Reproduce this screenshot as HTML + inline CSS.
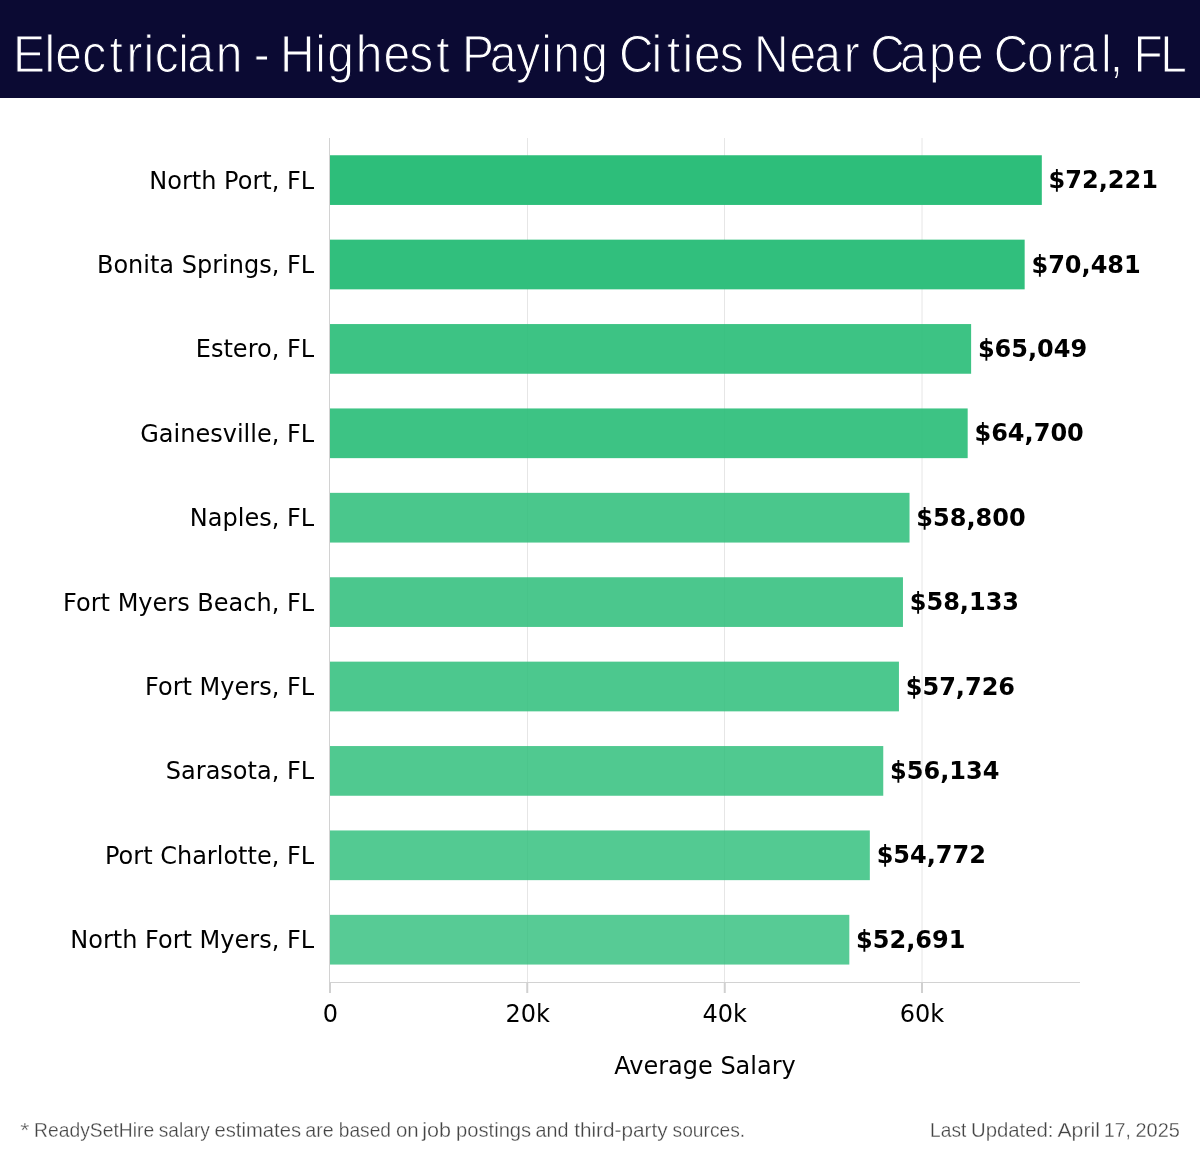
<!DOCTYPE html>
<html lang="en"><head><meta charset="utf-8"><title>Electrician - Highest Paying Cities Near Cape Coral, FL</title>
<style>
html,body{margin:0;padding:0;background:#fff}
body{width:1200px;height:1158px;overflow:hidden}
svg{display:block}
.dj{font-family:"DejaVu Sans","Liberation Sans",sans-serif;font-size:24px;fill:#000}
.b{font-weight:bold}
.t{font-family:"Liberation Sans",sans-serif;font-size:52px;fill:#fff;stroke:#0b0a33;stroke-width:1.2px}
.f{font-family:"Liberation Sans",sans-serif;font-size:20.4px;fill:#444;stroke:#fff;stroke-width:.3px}
</style></head><body>
<svg width="1200" height="1158" viewBox="0 0 1200 1158">
<rect x="0" y="0" width="1200" height="98" fill="#0b0a33"/>

<text class="t" transform="scale(0.9233,1)" x="13.95 48.27 59.79 89.11 118.68 136.89 155.5 167.63 193.14 202.75 233.75 238.75 274.73 279.73 303.37 341.47 354.33 385.21 415.44 443.36 472.49 477.49 500.41 530.45 559.23 586.13 599.18 629.65 634.65 670.34 705.55 722.35 739.12 751.62 779.55 784.55 816.75 855.06 881.85 913.96 918.96 942.58 974.67 1006.17 1036.52 1041.52 1076.44 1112.24 1144.5 1160 1192.54 1201.85 1206.85 1227.55 1256.72" y="71.7">Electrician - Highest Paying Cities Near Cape Coral, FL</text>
<line x1="527.50" y1="138.0" x2="527.50" y2="982.5" stroke="#e6e6e6" stroke-width="1"/>
<line x1="724.50" y1="138.0" x2="724.50" y2="982.5" stroke="#e6e6e6" stroke-width="1"/>
<line x1="922.00" y1="138.0" x2="922.00" y2="982.5" stroke="#e6e6e6" stroke-width="1"/>
<rect x="330.00" y="155.25" width="711.81" height="49.70" fill="#2dbe7a" fill-opacity="1.000"/>
<rect x="330.00" y="239.65" width="694.66" height="49.70" fill="#2dbe7a" fill-opacity="0.982"/>
<rect x="330.00" y="324.05" width="641.12" height="49.70" fill="#2dbe7a" fill-opacity="0.927"/>
<rect x="330.00" y="408.45" width="637.68" height="49.70" fill="#2dbe7a" fill-opacity="0.923"/>
<rect x="330.00" y="492.85" width="579.53" height="49.70" fill="#2dbe7a" fill-opacity="0.863"/>
<rect x="330.00" y="577.25" width="572.96" height="49.70" fill="#2dbe7a" fill-opacity="0.856"/>
<rect x="330.00" y="661.65" width="568.95" height="49.70" fill="#2dbe7a" fill-opacity="0.852"/>
<rect x="330.00" y="746.05" width="553.26" height="49.70" fill="#2dbe7a" fill-opacity="0.835"/>
<rect x="330.00" y="830.45" width="539.83" height="49.70" fill="#2dbe7a" fill-opacity="0.821"/>
<rect x="330.00" y="914.85" width="519.32" height="49.70" fill="#2dbe7a" fill-opacity="0.800"/>
<line x1="329.5" y1="138.0" x2="329.5" y2="983.0" stroke="#d2d2d2" stroke-width="1"/>
<line x1="329" y1="982.5" x2="1080" y2="982.5" stroke="#d2d2d2" stroke-width="1"/>
<line x1="330.00" y1="982.5" x2="330.00" y2="993.0" stroke="#d0d0d0" stroke-width="2"/>
<text class="dj" x="330.50" y="1022" text-anchor="middle">0</text>
<line x1="527.25" y1="982.5" x2="527.25" y2="993.0" stroke="#d0d0d0" stroke-width="2"/>
<text class="dj" x="527.62" y="1022" text-anchor="middle">20k</text>
<line x1="724.75" y1="982.5" x2="724.75" y2="993.0" stroke="#d0d0d0" stroke-width="2"/>
<text class="dj" x="724.74" y="1022" text-anchor="middle">40k</text>
<line x1="922.00" y1="982.5" x2="922.00" y2="993.0" stroke="#d0d0d0" stroke-width="2"/>
<text class="dj" x="921.86" y="1022" text-anchor="middle">60k</text>
<text class="dj" x="314.1" y="189" text-anchor="end">North Port, FL</text>
<text class="dj b" x="1048.61" y="188">$72,221</text>
<text class="dj" x="314.1" y="273" text-anchor="end">Bonita Springs, FL</text>
<text class="dj b" x="1031.46" y="273">$70,481</text>
<text class="dj" x="314.1" y="357" text-anchor="end">Estero, FL</text>
<text class="dj b" x="977.92" y="357">$65,049</text>
<text class="dj" x="314.1" y="442" text-anchor="end">Gainesville, FL</text>
<text class="dj b" x="974.48" y="441">$64,700</text>
<text class="dj" x="314.1" y="526" text-anchor="end">Naples, FL</text>
<text class="dj b" x="916.33" y="526">$58,800</text>
<text class="dj" x="314.1" y="611" text-anchor="end">Fort Myers Beach, FL</text>
<text class="dj b" x="909.76" y="610">$58,133</text>
<text class="dj" x="314.1" y="695" text-anchor="end">Fort Myers, FL</text>
<text class="dj b" x="905.75" y="695">$57,726</text>
<text class="dj" x="314.1" y="779" text-anchor="end">Sarasota, FL</text>
<text class="dj b" x="890.06" y="779">$56,134</text>
<text class="dj" x="314.1" y="864" text-anchor="end">Port Charlotte, FL</text>
<text class="dj b" x="876.63" y="863">$54,772</text>
<text class="dj" x="314.1" y="948" text-anchor="end">North Fort Myers, FL</text>
<text class="dj b" x="856.12" y="948">$52,691</text>
<text class="dj" x="705" y="1074" text-anchor="middle">Average Salary</text>
<text class="f" y="1136.8"><tspan x="20.18" textLength="9.11" lengthAdjust="spacingAndGlyphs">*</tspan> <tspan x="34.1" textLength="120.02" lengthAdjust="spacingAndGlyphs">ReadySetHire</tspan> <tspan x="158.8" textLength="51.07" lengthAdjust="spacingAndGlyphs">salary</tspan> <tspan x="214.51" textLength="86.49" lengthAdjust="spacingAndGlyphs">estimates</tspan> <tspan x="305.29" textLength="28.4" lengthAdjust="spacingAndGlyphs">are</tspan> <tspan x="338.84" textLength="52.12" lengthAdjust="spacingAndGlyphs">based</tspan> <tspan x="396.0" textLength="22.68" lengthAdjust="spacingAndGlyphs">on</tspan> <tspan x="422.26" textLength="28.75" lengthAdjust="spacingAndGlyphs">job</tspan> <tspan x="456.02" textLength="75.17" lengthAdjust="spacingAndGlyphs">postings</tspan> <tspan x="535.53" textLength="32.94" lengthAdjust="spacingAndGlyphs">and</tspan> <tspan x="574.24" textLength="93.3" lengthAdjust="spacingAndGlyphs">third-party</tspan> <tspan x="672.54" textLength="72.65" lengthAdjust="spacingAndGlyphs">sources.</tspan></text>
<text class="f" y="1136.8"><tspan x="930.11" textLength="36.17" lengthAdjust="spacingAndGlyphs">Last</tspan> <tspan x="971.01" textLength="82.5" lengthAdjust="spacingAndGlyphs">Updated:</tspan> <tspan x="1057.49" textLength="42.36" lengthAdjust="spacingAndGlyphs">April</tspan> <tspan x="1104.11" textLength="26.63" lengthAdjust="spacingAndGlyphs">17,</tspan> <tspan x="1135.53" textLength="44.31" lengthAdjust="spacingAndGlyphs">2025</tspan></text>
</svg></body></html>
